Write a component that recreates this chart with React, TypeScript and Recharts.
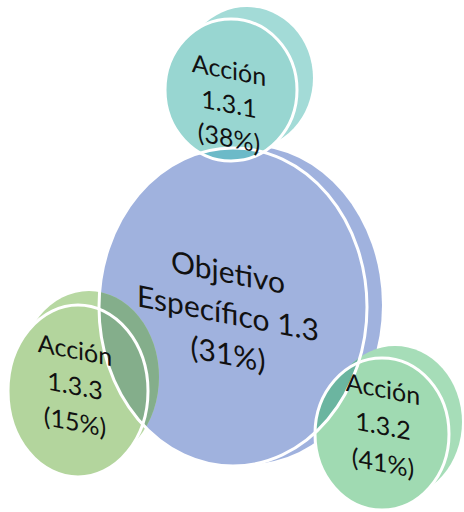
import React from 'react';
import { ScatterChart, Scatter, XAxis, YAxis } from 'recharts';

// Datos del diagrama
const nodeIds = ['obj13', 'acc131', 'acc132', 'acc133'];
const nodeTitles = [
  ['Objetivo', 'Específico 1.3'],
  ['Acción', '1.3.1'],
  ['Acción', '1.3.2'],
  ['Acción', '1.3.3'],
];
const nodeShares = [31, 38, 41, 15];

// Disposición (coordenadas del lienzo 464x512)
const layout = [
  { x: 233, y: 307, rx: 134, ry: 159, bx: 15, by: -2, lx: -5, ly: 5, gap: 41, fs: 30, front: '#a0b2de', back: '#a0b2de', overlap: '#a0b2de' },
  { x: 231, y: 90, rx: 66, ry: 71, bx: 16, by: -12, lx: -2, ly: 13, gap: 34, fs: 25, front: '#98d6d1', back: '#a3dbd7', overlap: '#6cbac8' },
  { x: 382, y: 434, rx: 67, ry: 76, bx: 13, by: -12, lx: 1, ly: -9, gap: 37, fs: 25, front: '#a0dab2', back: '#a6ddb8', overlap: '#6bb5a0' },
  { x: 78, y: 391, rx: 70, ry: 86, bx: 11, by: -14, lx: -3, ly: -6, gap: 36, fs: 25, front: '#b3d59d', back: '#b7d8a2', overlap: '#84ae8b' },
];

const data = nodeIds.map((id, i) => ({
  id,
  lines: [...nodeTitles[i], `(${nodeShares[i]}%)`],
  share: nodeShares[i],
  ...layout[i],
}));

const SKEW = 11;

const Disc = (props: any) => {
  const { cx, cy, payload } = props;
  const p = payload;
  return (
    <g>
      {p.id === 'obj13' && (
        <defs>
          <clipPath id="clip-big">
            <ellipse cx={cx} cy={cy} rx={p.rx} ry={p.ry} />
          </clipPath>
        </defs>
      )}
      <ellipse cx={cx + p.bx} cy={cy + p.by} rx={p.rx} ry={p.ry} fill={p.back} />
      <ellipse cx={cx} cy={cy} rx={p.rx} ry={p.ry} fill={p.front} />
    </g>
  );
};

const Overlap = (props: any) => {
  const { cx, cy, payload } = props;
  const p = payload;
  if (p.id === 'obj13') return <g />;
  return (
    <g clipPath="url(#clip-big)">
      <ellipse cx={cx + p.bx} cy={cy + p.by} rx={p.rx} ry={p.ry} fill={p.overlap} />
      <ellipse cx={cx} cy={cy} rx={p.rx} ry={p.ry} fill={p.overlap} />
    </g>
  );
};

const Outline = (props: any) => {
  const { cx, cy, payload } = props;
  const p = payload;
  return <ellipse cx={cx} cy={cy} rx={p.rx} ry={p.ry} fill="none" stroke="#ffffff" strokeWidth={3} />;
};

const Label = (props: any) => {
  const { cx, cy, payload } = props;
  const p = payload;
  const n = p.lines.length;
  return (
    <g>
      {p.lines.map((t: string, k: number) => {
        const x = cx + p.lx;
        const y = cy + p.ly + (k - (n - 1) / 2) * p.gap;
        return (
          <g key={k} transform={`translate(${x}, ${y}) skewY(${SKEW})`}>
            <text
              x={0}
              y={0}
              textAnchor="middle"
              dominantBaseline="central"
              fontFamily="Lato, 'Open Sans', sans-serif"
              fontSize={p.fs}
              fill="#111111"
            >
              {t}
            </text>
          </g>
        );
      })}
    </g>
  );
};

const App: React.FC = () => {
  return (
    <div style={{ position: 'absolute', left: 0, top: 0, width: 464, height: 512, background: '#ffffff' }}>
      <ScatterChart width={464} height={512} margin={{ top: 0, right: 0, bottom: 0, left: 0 }}>
        <XAxis type="number" dataKey="x" domain={[0, 464]} hide />
        <YAxis type="number" dataKey="y" domain={[0, 512]} reversed hide />
        <Scatter data={data} shape={<Disc />} isAnimationActive={false} />
        <Scatter data={data} shape={<Overlap />} isAnimationActive={false} />
        <Scatter data={data} shape={<Outline />} isAnimationActive={false} />
        <Scatter data={data} shape={<Label />} isAnimationActive={false} />
      </ScatterChart>
    </div>
  );
};

export default App;
